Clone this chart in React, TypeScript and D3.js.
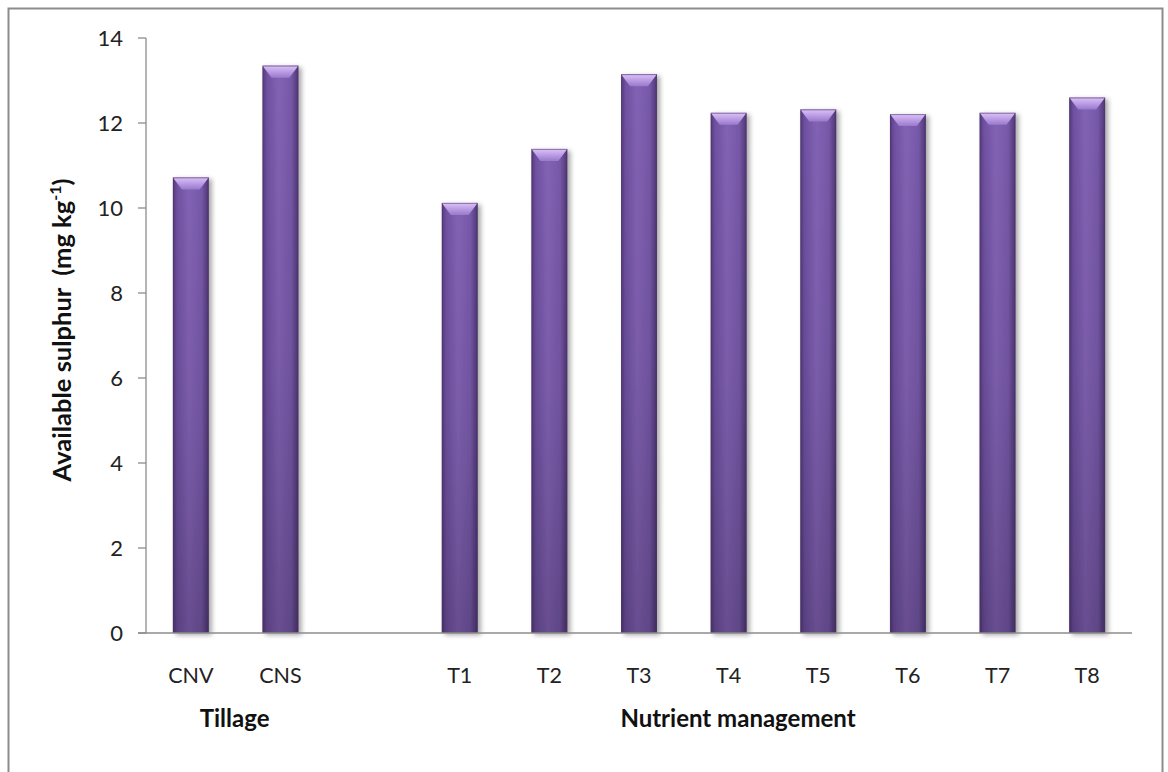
import React from "react";
import * as d3 from "d3";

// Available sulphur by treatment
const categories = ["CNV", "CNS", "", "T1", "T2", "T3", "T4", "T5", "T6", "T7", "T8"];
const values: (number | null)[] = [10.72, 13.35, null, 10.12, 11.39, 13.15, 12.24, 12.32, 12.21, 12.24, 12.6];
const yTicks = [0, 2, 4, 6, 8, 10, 12, 14];
const groupLabels = [
  { text: "Tillage", from: "CNV", to: "CNS" },
  { text: "Nutrient management", from: "T1", to: "T8" },
];

const W = 1168;
const H = 772;
const margin = { left: 146, right: 36, top: 38, bottom: 139 };
const FONT = "Lato, 'Open Sans', sans-serif";

export default function App() {
  const x = d3
    .scaleBand<string>()
    .domain(categories.map((c, i) => c || `gap${i}`))
    .range([margin.left, W - margin.right])
    .paddingInner(0.6)
    .paddingOuter(0.3);
  const y = d3.scaleLinear().domain([0, 14]).range([H - margin.bottom, margin.top]);
  const key = (i: number) => categories[i] || `gap${i}`;
  const bw = x.bandwidth();
  const y0 = y(0);

  const centerOf = (c: string) => (x(c) as number) + bw / 2;

  return (
    <svg width={W} height={H} style={{ position: "absolute", left: 0, top: 0, fontFamily: FONT }}>
      <defs>
        <linearGradient id="barBody" x1="0" x2="1" y1="0" y2="0">
          <stop offset="0" stopColor="#54397a" />
          <stop offset="0.12" stopColor="#6e50a0" />
          <stop offset="0.45" stopColor="#8262b4" />
          <stop offset="0.8" stopColor="#7658a8" />
          <stop offset="1" stopColor="#4e3572" />
        </linearGradient>
        <linearGradient id="barShade" x1="0" x2="0" y1="0" y2="1">
          <stop offset="0" stopColor="#000" stopOpacity="0" />
          <stop offset="0.5" stopColor="#000" stopOpacity="0.06" />
          <stop offset="1" stopColor="#000" stopOpacity="0.2" />
        </linearGradient>
        <linearGradient id="bevelTop" x1="0" x2="0" y1="0" y2="1">
          <stop offset="0" stopColor="#dcc2fa" />
          <stop offset="1" stopColor="#9a79cc" />
        </linearGradient>
        <filter id="barShadow" x="-30%" y="-10%" width="170%" height="130%">
          <feGaussianBlur in="SourceAlpha" stdDeviation="2.5" />
          <feOffset dx="3" dy="2" result="off" />
          <feComponentTransfer>
            <feFuncA type="linear" slope="0.35" />
          </feComponentTransfer>
          <feMerge>
            <feMergeNode />
            <feMergeNode in="SourceGraphic" />
          </feMerge>
        </filter>
      </defs>

      {/* chart frame */}
      <rect x={8.5} y={8.5} width={1154} height={800} fill="#fff" stroke="#8c8c8c" strokeWidth={2} />

      {/* bars */}
      {values.map((v, i) => {
        if (v == null) return null;
        const bx = x(key(i)) as number;
        const top = y(v);
        const h = y0 - top;
        const inset = 9;
        const bevelH = 12;
        return (
          <g key={i} filter="url(#barShadow)">
            <rect x={bx} y={top} width={bw} height={h} fill="url(#barBody)" />
            <rect x={bx} y={top} width={bw} height={h} fill="url(#barShade)" />
            <polygon
              points={`${bx},${top} ${bx + bw},${top} ${bx + bw - inset},${top + bevelH} ${bx + inset},${top + bevelH}`}
              fill="url(#bevelTop)"
            />
            <rect x={bx + 0.5} y={top + 0.5} width={bw - 1} height={h - 1} fill="none" stroke="#4a3468" strokeOpacity={0.55} />
          </g>
        );
      })}

      {/* y axis */}
      <line x1={margin.left} x2={margin.left} y1={y(14)} y2={y0} stroke="#8c8c8c" strokeWidth={1.3} />
      {yTicks.map((t) => (
        <g key={t}>
          <line x1={margin.left - 8} x2={margin.left} y1={y(t)} y2={y(t)} stroke="#8c8c8c" strokeWidth={1.3} />
          <text x={margin.left - 23} y={y(t)} dy="0.36em" textAnchor="end" fontSize={22} fill="#222">
            {t}
          </text>
        </g>
      ))}

      {/* x axis */}
      <line x1={margin.left - 8} x2={W - margin.right} y1={y0} y2={y0} stroke="#8c8c8c" strokeWidth={1.3} />
      {categories.map((c, i) =>
        c ? (
          <text key={i} x={centerOf(key(i))} y={y0 + 50} textAnchor="middle" fontSize={21.5} fill="#222">
            {c}
          </text>
        ) : null
      )}

      {/* group labels */}
      <text x={(centerOf("CNV") + centerOf("CNS")) / 2 - 1} y={y0 + 94} textAnchor="middle" fontSize={24} fontWeight="bold" fill="#111">
        {groupLabels[0].text}
      </text>
      <text x={738} y={y0 + 94} textAnchor="middle" fontSize={24} fontWeight="bold" fill="#111">
        {groupLabels[1].text}
      </text>

      {/* y axis title */}
      <text
        transform={`translate(71, ${330}) rotate(-90)`}
        textAnchor="middle"
        fontSize={25.5}
        fontWeight="bold"
        fill="#111"
      >
        Available sulphur{"\u00a0\u00a0"}(mg kg
        <tspan dy="-10" fontSize={16}>-1</tspan>
        <tspan dy="10">)</tspan>
      </text>
    </svg>
  );
}
